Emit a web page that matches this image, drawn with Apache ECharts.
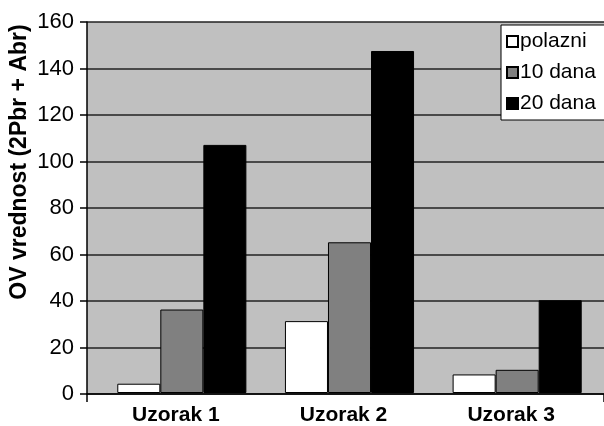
<!DOCTYPE html>
<html>
<head>
<meta charset="utf-8">
<script src="https://cdn.jsdelivr.net/npm/echarts@6/dist/echarts.min.js"></script>
<style>html,body{margin:0;padding:0;background:#fff}#c{width:604px;height:426px}</style>
</head>
<body>
<div id="c"></div>
<script>
const categories = ['Uzorak 1', 'Uzorak 2', 'Uzorak 3'];
const seriesNames = ['polazni', '10 dana', '20 dana'];
const polazni = [4, 31, 8];
const dana10 = [36, 65, 10];
const dana20 = [107, 147.5, 40];
const yTitle = 'OV vrednost (2Pbr + Abr)';

const FONT = '"Liberation Sans", Arial, sans-serif';
const chart = echarts.init(document.getElementById('c'), null, {renderer: 'canvas'});
const barStyle = (color) => ({color: color, borderColor: '#000', borderWidth: 1});
chart.setOption({
  animation: false,
  backgroundColor: '#fff',
  grid: [
    {left: 87, right: 0, top: 22, bottom: 32, show: true, backgroundColor: '#c0c0c0', borderWidth: 0},
    {left: 98, right: 3, top: 22, bottom: 32}
  ],
  xAxis: [
    {gridIndex: 0, type: 'value', min: 0, max: 1, interval: 1,
     axisLine: {show: true, lineStyle: {color: '#000', width: 1.5}},
     axisTick: {show: true, length: 8, lineStyle: {color: '#000', width: 1.5}},
     axisLabel: {show: false}, splitLine: {show: false}},
    {gridIndex: 1, type: 'category', data: categories,
     axisLine: {show: false}, axisTick: {show: false},
     axisLabel: {fontFamily: FONT, fontSize: 21, fontWeight: 'bold', color: '#000', margin: 12,
                 padding: [0, 12, 0, 0]}}
  ],
  yAxis: [
    {gridIndex: 0, type: 'value', min: 0, max: 160, interval: 20,
     axisLine: {show: true, lineStyle: {color: '#000', width: 1.5}},
     axisTick: {show: true, length: 7, lineStyle: {color: '#000', width: 1.5}},
     axisLabel: {fontFamily: FONT, fontSize: 22, color: '#000', margin: 13},
     splitLine: {show: true, lineStyle: {color: '#222', width: 1.5}}},
    {gridIndex: 1, type: 'value', min: 0, max: 160, interval: 20, show: false,
     splitLine: {show: false}}
  ],
  legend: {
    orient: 'vertical', left: 501, top: 25,
    backgroundColor: '#fff', borderColor: '#000', borderWidth: 1,
    padding: [6, 30, 6, 5], itemGap: 10, itemWidth: 11, itemHeight: 11,
    icon: 'rect',
    textStyle: {fontFamily: FONT, fontSize: 21, color: '#000', padding: [0, 0, 0, -3]},
    data: seriesNames
  },
  graphic: [{
    type: 'text', x: 20, y: 162, rotation: Math.PI / 2,
    style: {text: yTitle, fontFamily: FONT, fontSize: 23, fontWeight: 'bold', fill: '#000',
            align: 'center', verticalAlign: 'middle'}
  }],
  series: [
    {name: seriesNames[0], type: 'bar', xAxisIndex: 1, yAxisIndex: 1, data: polazni,
     itemStyle: barStyle('#ffffff'), barGap: '0%', barCategoryGap: '23%'},
    {name: seriesNames[1], type: 'bar', xAxisIndex: 1, yAxisIndex: 1, data: dana10,
     itemStyle: barStyle('#808080'), barGap: '0%', barCategoryGap: '23%'},
    {name: seriesNames[2], type: 'bar', xAxisIndex: 1, yAxisIndex: 1, data: dana20,
     itemStyle: barStyle('#000000'), barGap: '0%', barCategoryGap: '23%'}
  ]
});
</script>
</body>
</html>
